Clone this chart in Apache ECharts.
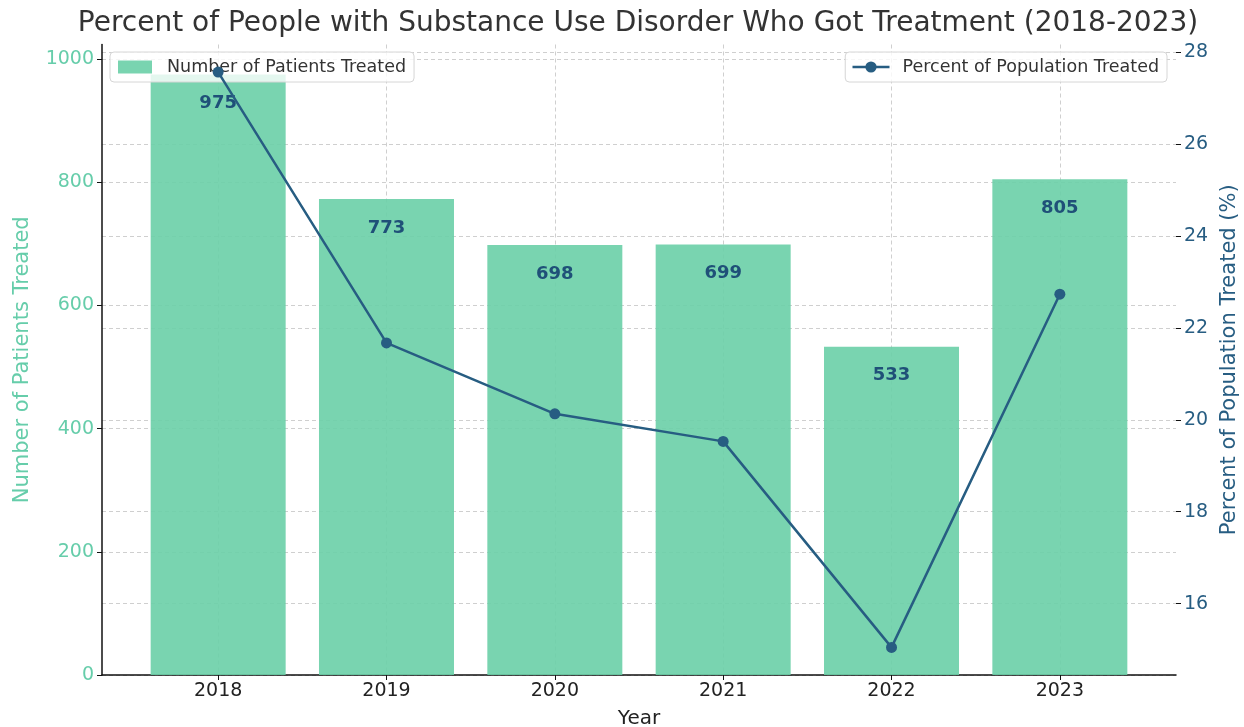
<!DOCTYPE html>
<html>
<head>
<meta charset="utf-8">
<script src="https://cdn.jsdelivr.net/npm/echarts@6/dist/echarts.min.js"></script>
<style>
  html, body { margin: 0; padding: 0; background: #fff; }
  #chart { width: 1244px; height: 727px; }
</style>
</head>
<body>
<div id="chart"></div>
<script>
// data
const years = ["2018", "2019", "2020", "2021", "2022", "2023"];
const patientsTreated = [975, 773, 698, 699, 533, 805];
const percentTreated = [27.56, 21.67, 20.13, 19.53, 15.05, 22.73];
const patientTicks = [0, 200, 400, 600, 800, 1000];
const percentTicks = [16, 18, 20, 22, 24, 26, 28];

const font = "DejaVu Sans";
const green = "#66CDAA";
const blue = "#275d82";
const gridLine = { show: true, lineStyle: { type: [4, 3], color: "#cfcfcf", width: 1 } };

let myChart = echarts.init(document.getElementById("chart"));
let yearIdx = years.map((y, i) => i);

let option = {
  backgroundColor: "#fff",
  textStyle: { fontFamily: font },
  title: {
    text: "Percent of People with Substance Use Disorder Who Got Treatment (2018-2023)",
    left: 633,
    textAlign: "center",
    top: 5,
    textStyle: { fontFamily: font, fontSize: 28, fontWeight: "normal", color: "#333" },
  },
  legend: [
    {
      data: ["Number of Patients Treated"],
      icon: "rect",
      left: 110,
      top: 52,
      padding: [6, 8, 6, 8],
      itemWidth: 34,
      itemHeight: 13,
      borderColor: "#d6d6d6",
      borderWidth: 1,
      borderRadius: 4,
      backgroundColor: "rgba(255,255,255,0.8)",
      textStyle: { fontFamily: font, fontSize: 17.5, color: "#333", padding: [0, 0, 0, 10] },
    },
    {
      data: ["Percent of Population Treated"],
      right: 77,
      top: 52,
      padding: [6, 8, 6, 6],
      itemWidth: 37,
      itemHeight: 14,
      lineStyle: { width: 2.5 },
      borderColor: "#d6d6d6",
      borderWidth: 1,
      borderRadius: 4,
      backgroundColor: "rgba(255,255,255,0.8)",
      textStyle: { fontFamily: font, fontSize: 17.5, color: "#333", padding: [0, 0, 0, 8] },
    },
  ],
  grid: { left: 102, right: 68, top: 44.5, bottom: 52, containLabel: false, outerBoundsMode: "none" },
  xAxis: {
    type: "value",
    min: -0.69,
    max: 5.69,
    name: "Year",
    nameLocation: "middle",
    nameGap: 34,
    nameTextStyle: { fontFamily: font, fontSize: 20, color: "#222" },
    axisLine: { show: true, onZero: false, lineStyle: { color: "#111", width: 1.5 } },
    axisTick: { show: true, customValues: yearIdx, length: 5, lineStyle: { color: "#111" } },
    axisLabel: {
      customValues: yearIdx,
      formatter: (v) => years[Math.round(v)],
      fontFamily: font,
      fontSize: 19,
      color: "#222",
      margin: 7,
    },
    splitLine: gridLine,
  },
  yAxis: [
    {
      type: "value",
      min: 0,
      max: 1023.75,
      name: "Number of Patients Treated",
      nameLocation: "middle",
      nameGap: 69,
      nameTextStyle: { fontFamily: font, fontSize: 21, color: green },
      axisLine: { show: true, onZero: false, lineStyle: { color: "#111", width: 1.5 } },
      axisTick: { show: true, customValues: patientTicks, length: 5, lineStyle: { color: "#111" } },
      axisLabel: {
        customValues: patientTicks,
        formatter: (v) => String(v),
        fontFamily: font,
        fontSize: 19,
        color: green,
        margin: 8,
      },
      splitLine: gridLine,
    },
    {
      type: "value",
      min: 14.45,
      max: 28.16,
      position: "right",
      name: "Percent of Population Treated (%)",
      nameLocation: "middle",
      nameGap: 38,
      nameTextStyle: { fontFamily: font, fontSize: 21, color: blue },
      axisLine: { show: false, onZero: false },
      axisTick: { show: true, customValues: percentTicks, length: 5, lineStyle: { color: "#111" } },
      axisLabel: {
        customValues: percentTicks,
        formatter: (v) => String(v),
        fontFamily: font,
        fontSize: 19,
        color: blue,
        margin: 8,
      },
      splitLine: gridLine,
    },
  ],
  series: [
    {
      name: "Number of Patients Treated",
      type: "bar",
      yAxisIndex: 0,
      barWidth: 135,
      itemStyle: { color: "rgba(106,207,167,0.9)" },
      label: {
        show: true,
        position: "insideTop",
        distance: 20,
        formatter: (p) => p.value[1],
        fontFamily: font,
        fontSize: 18,
        fontWeight: "bold",
        color: "#1f5078",
      },
      data: patientsTreated.map((v, i) => [i, v]),
    },
    {
      name: "Percent of Population Treated",
      type: "line",
      yAxisIndex: 1,
      symbol: "circle",
      symbolSize: 11,
      lineStyle: { color: blue, width: 2.5 },
      itemStyle: { color: blue },
      data: percentTreated.map((v, i) => [i, v]),
      z: 5,
    },
  ],
};
myChart.setOption(option);
</script>
</body>
</html>
